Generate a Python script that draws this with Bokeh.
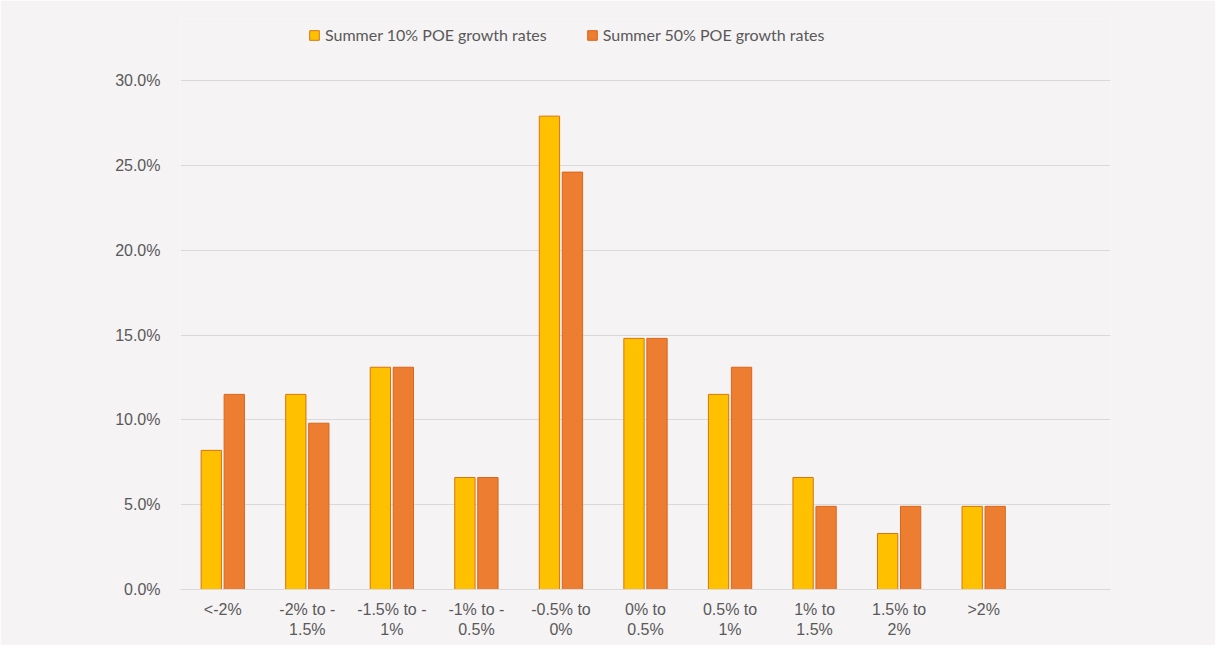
from bokeh.plotting import figure
from bokeh.models import FactorRange, Range1d, ColumnDataSource, Legend, LegendItem, FixedTicker, PrintfTickFormatter
from bokeh.transform import dodge
from bokeh.embed import file_html
from bokeh.resources import INLINE

categories = ["<-2%", "-2% to -\n1.5%", "-1.5% to -\n1%", "-1% to -\n0.5%", "-0.5% to\n0%",
              "0% to\n0.5%", "0.5% to\n1%", "1% to\n1.5%", "1.5% to\n2%", ">2%"]
poe10 = [8.2, 11.5, 13.1, 6.6, 27.9, 14.8, 11.5, 6.6, 3.3, 4.9]
poe50 = [11.5, 9.8, 13.1, 6.6, 24.6, 14.8, 13.1, 4.9, 4.9, 4.9]
series_names = ["Summer 10% POE growth rates", "Summer 50% POE growth rates"]
y_ticks = [0, 5, 10, 15, 20, 25, 30]

BG = "#f5f3f4"
factors = categories + [" "]
src = ColumnDataSource(dict(cat=categories, a=poe10, b=poe50))

# frame extends above the 30% line to host the legend
H = 645
TOP_PX, BOT_PX, FRAME_TOP = 80, 589, 18
y_end = 30 * (BOT_PX - FRAME_TOP) / (BOT_PX - TOP_PX)

p = figure(width=1215, height=H, x_range=FactorRange(factors=factors, range_padding=0),
           y_range=Range1d(0, y_end), output_backend="svg", toolbar_location=None,
           min_border_left=180, min_border_right=105, min_border_top=FRAME_TOP,
           min_border_bottom=H - BOT_PX)
p.background_fill_color = BG
p.border_fill_color = BG
p.outline_line_color = None

r1 = p.vbar(x=dodge("cat", -0.136, range=p.x_range), top="a", width=0.24, source=src,
            fill_color="#FFC000", line_color="#d9730d", line_width=1)
r2 = p.vbar(x=dodge("cat", 0.136, range=p.x_range), top="b", width=0.24, source=src,
            fill_color="#ED7D31", line_color="#d9661c", line_width=1)

p.xgrid.grid_line_color = None
p.ygrid.grid_line_color = "#d9d9d9"
p.ygrid.grid_line_width = 1
p.yaxis.ticker = FixedTicker(ticks=y_ticks)
p.yaxis.formatter = PrintfTickFormatter(format="%.1f%%")
p.yaxis.axis_line_color = None
p.yaxis.major_tick_line_color = None
p.yaxis.minor_tick_line_color = None
p.yaxis.major_label_text_font = "Liberation Sans"
p.yaxis.major_label_text_font_size = "16px"
p.yaxis.major_label_text_color = "#595959"
p.yaxis.major_label_standoff = 14

p.xaxis.axis_line_color = "#d9d9d9"
p.xaxis.major_tick_line_color = None
p.xaxis.minor_tick_line_color = None
p.xaxis.major_label_text_font = "Liberation Sans"
p.xaxis.major_label_text_font_size = "16px"
p.xaxis.major_label_text_color = "#595959"
p.xaxis.major_label_standoff = 5
p.xaxis.group_text_font_size = "0px"

legend = Legend(items=[LegendItem(label=series_names[0], renderers=[r1]),
                       LegendItem(label=series_names[1], renderers=[r2])],
                orientation="horizontal", location=(128, 545))
legend.background_fill_alpha = 0
legend.border_line_color = None
legend.label_text_font = "Lato"
legend.label_text_font_size = "16px"
legend.label_text_color = "#595959"
legend.glyph_width = 12
legend.glyph_height = 12
legend.spacing = 39
legend.label_standoff = 5
legend.padding = 0
legend.margin = 0
p.add_layout(legend, "center")

open("out.html", "w").write(file_html(p, INLINE))
